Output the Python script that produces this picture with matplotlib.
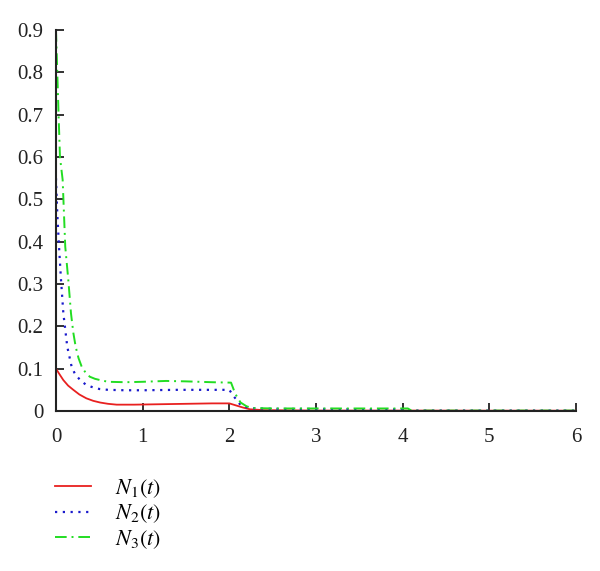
import matplotlib
matplotlib.use("Agg")
import matplotlib.pyplot as plt

# Data
t1 = [0, 0.04, 0.085, 0.14, 0.2, 0.27, 0.35, 0.43, 0.51, 0.6, 0.7, 0.9, 1.2, 1.5, 1.8, 2.0, 2.08, 2.16, 2.24, 2.4, 3.0, 4.0, 5.0, 6.0]
n1 = [0.1, 0.087, 0.073, 0.06, 0.05, 0.039, 0.03, 0.024, 0.02, 0.017, 0.015, 0.015, 0.016, 0.017, 0.018, 0.018, 0.013, 0.008, 0.004, 0.002, 0.001, 0.001, 0.0008, 0.0008]

t2 = [0, 0.008, 0.015, 0.035, 0.058, 0.085, 0.13, 0.18, 0.22, 0.28, 0.34, 0.41, 0.5, 0.6, 0.8, 1.0, 1.4, 1.8, 2.0, 2.05, 2.13, 2.2, 2.3, 2.6, 3.0, 3.5, 4.0, 4.1, 5.0, 6.0]
n2 = [0.55, 0.503, 0.467, 0.388, 0.31, 0.231, 0.152, 0.105, 0.087, 0.073, 0.063, 0.057, 0.052, 0.050, 0.049, 0.049, 0.050, 0.050, 0.050, 0.035, 0.014, 0.009, 0.006, 0.005, 0.005, 0.004, 0.004, 0.001, 0.001, 0.001]

t3 = [0, 0.015, 0.03, 0.046, 0.077, 0.092, 0.107, 0.142, 0.173, 0.2, 0.227, 0.26, 0.296, 0.34, 0.39, 0.45, 0.51, 0.6, 0.8, 1.0, 1.27, 1.5, 1.8, 2.02, 2.07, 2.13, 2.2, 2.27, 2.5, 3.0, 3.5, 4.06, 4.1, 5.0, 6.0]
n3 = [0.9, 0.8, 0.7, 0.6, 0.546, 0.467, 0.388, 0.31, 0.231, 0.185, 0.152, 0.125, 0.105, 0.091, 0.081, 0.076, 0.073, 0.069, 0.068, 0.069, 0.071, 0.07, 0.068, 0.067, 0.04, 0.02, 0.011, 0.007, 0.006, 0.006, 0.006, 0.006, 0.001, 0.001, 0.001]

xticks = [0, 1, 2, 3, 4, 5, 6]
yticks = [0, 0.1, 0.2, 0.3, 0.4, 0.5, 0.6, 0.7, 0.8, 0.9]
ytick_labels = ["0", "0.1", "0.2", "0.3", "0.4", "0.5", "0.6", "0.7", "0.8", "0.9"]
labels = [r"$N_1(t)$", r"$N_2(t)$", r"$N_3(t)$"]

plt.rcParams["font.family"] = ["Liberation Serif", "DejaVu Serif"]
plt.rcParams["mathtext.fontset"] = "stix"

fig = plt.figure(figsize=(6.0, 5.71), dpi=100)
ax = fig.add_axes([0.0933, 0.2802, 0.8667, 0.6673])

l1, = ax.plot(t1, n1, color="#e8201f", lw=1.3, ls="-")
l2, = ax.plot(t2, n2, color="#1a1acc", lw=1.6, ls=(0, (1, 2.5)))
l3, = ax.plot(t3, n3, color="#22dd22", lw=1.4, ls=(0, (6, 2.5, 1, 2.5)))

ax.set_xlim(0, 6)
ax.set_ylim(0, 0.9)
ax.set_xticks(xticks)
ax.set_xticklabels([str(x) for x in xticks])
ax.set_yticks(yticks)
ax.set_yticklabels(ytick_labels)
for s in ["top", "right"]:
    ax.spines[s].set_visible(False)
for s in ["left", "bottom"]:
    ax.spines[s].set_linewidth(1.5)
    ax.spines[s].set_color("#222222")
ax.tick_params(direction="in", length=6, width=1.3, labelsize=15, colors="#222222")
ax.tick_params(axis="x", pad=12)
ax.tick_params(axis="y", pad=9)

fig.legend([l1, l2, l3], labels, loc="upper left", bbox_to_anchor=(0.077, 0.18),
           frameon=False, fontsize=16, handlelength=1.6, handletextpad=1.1,
           labelspacing=0.12, borderaxespad=0)

fig.savefig("out.png", dpi=100)
